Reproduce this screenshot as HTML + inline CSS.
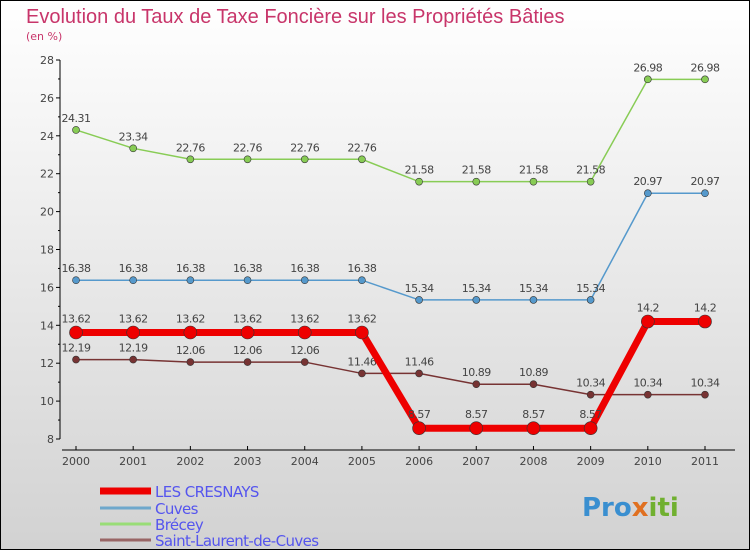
<!DOCTYPE html>
<html><head><meta charset="utf-8"><style>
body{margin:0}
svg{display:block;font-family:"DejaVu Sans","Liberation Sans",sans-serif}
</style></head><body>
<svg width="750" height="550" viewBox="0 0 750 550">
<defs><linearGradient id="bg" x1="0" y1="0" x2="0" y2="1"><stop offset="0" stop-color="#ffffff"/><stop offset="1" stop-color="#d2d2d2"/></linearGradient></defs>
<rect x="0.5" y="0.5" width="749" height="549" fill="url(#bg)" stroke="#000"/>
<text x="26" y="23" font-size="20" fill="#c8356a" font-family="Liberation Sans, sans-serif">Evolution du Taux de Taxe Foncière sur les Propriétés Bâties</text>
<text x="26" y="40" font-size="11" fill="#c8356a">(en %)</text>
<g id="axes"></g><g id="series"></g><g id="legend"></g>
<text x="582" y="516" font-size="26" font-weight="bold" fill="#3a8fd0">Pro<tspan fill="#e07020">x</tspan><tspan fill="#70b030">iti</tspan></text>
</svg>
<script>
const years=[2000,2001,2002,2003,2004,2005,2006,2007,2008,2009,2010,2011];
const yTicks=[8,10,12,14,16,18,20,22,24,26,28];
const cresnays=[13.62,13.62,13.62,13.62,13.62,13.62,8.57,8.57,8.57,8.57,14.2,14.2];
const cuves=[16.38,16.38,16.38,16.38,16.38,16.38,15.34,15.34,15.34,15.34,20.97,20.97];
const brecey=[24.31,23.34,22.76,22.76,22.76,22.76,21.58,21.58,21.58,21.58,26.98,26.98];
const stlaurent=[12.19,12.19,12.06,12.06,12.06,11.46,11.46,10.89,10.89,10.34,10.34,10.34];
const NS="http://www.w3.org/2000/svg";
function X(i){return 76+i*(705-76)/11;}
function Y(v){return 439-(v-8)*(439-60)/20;}
function mk(p,t,a){const e=document.createElementNS(NS,t);for(const k in a)e.setAttribute(k,a[k]);p.appendChild(e);return e;}
const ax=document.getElementById('axes');
let l=mk(ax,'line',{x1:60,y1:60,x2:60,y2:439,stroke:'#000'});

l=mk(ax,'line',{x1:62,y1:450,x2:735,y2:450,stroke:'#000'});

yTicks.forEach(v=>{mk(ax,'line',{x1:56,y1:Y(v),x2:60,y2:Y(v),stroke:'#000'});
 const t=mk(ax,'text',{x:54,y:Y(v)+4,'font-size':11,fill:'#444','text-anchor':'end'});t.textContent=v;
 
 if(v<28)mk(ax,'line',{x1:58,y1:Y(v+1),x2:60,y2:Y(v+1),stroke:'#000'});});
years.forEach((y,i)=>{mk(ax,'line',{x1:X(i),y1:446,x2:X(i),y2:450,stroke:'#000'});
 const t=mk(ax,'text',{x:X(i),y:465,'font-size':11,fill:'#444','text-anchor':'middle'});t.textContent=y;
 });
const sg=document.getElementById('series');
function series(vals,color,w,r,name,dy){
 const g=mk(sg,'g',{});
 const pl=mk(g,'polyline',{points:vals.map((v,i)=>X(i)+','+Y(v)).join(' '),fill:'none',stroke:color,'stroke-width':w});
 
 vals.forEach((v,i)=>{const c=mk(g,'circle',{cx:X(i),cy:Y(v),r:r,fill:color,stroke:'#333','stroke-width':0.6});
  
  const t=mk(g,'text',{x:X(i),y:Y(v)+dy,'font-size':11,fill:'#444','text-anchor':'middle','letter-spacing':'-0.5'});t.textContent=v;
  });
}
series(brecey,'#88cc55',1.5,3.5,'brecey',-8);
series(cuves,'#5599cc',1.5,3.5,'cuves',-8);
series(stlaurent,'#773333',1.5,3.5,'saint-laurent-de-cuves',-8);
series(cresnays,'#ee0000',7,6.5,'les-cresnays',-10);
const lg=document.getElementById('legend');
[['LES CRESNAYS','#ee0000',7,491],['Cuves','#6fa8cc',3,508],['Brécey','#99dd77',3,524],['Saint-Laurent-de-Cuves','#996666',3,540]].forEach(([n,c,w,y])=>{
 const g=mk(lg,'g',{});
 mk(g,'line',{x1:100,y1:y,x2:151,y2:y,stroke:c,'stroke-width':w});
 const t=mk(g,'text',{x:155,y:y+6,'font-size':15,fill:'#5555ee','letter-spacing':'-0.6'});t.textContent=n;});
</script>
</body></html>
